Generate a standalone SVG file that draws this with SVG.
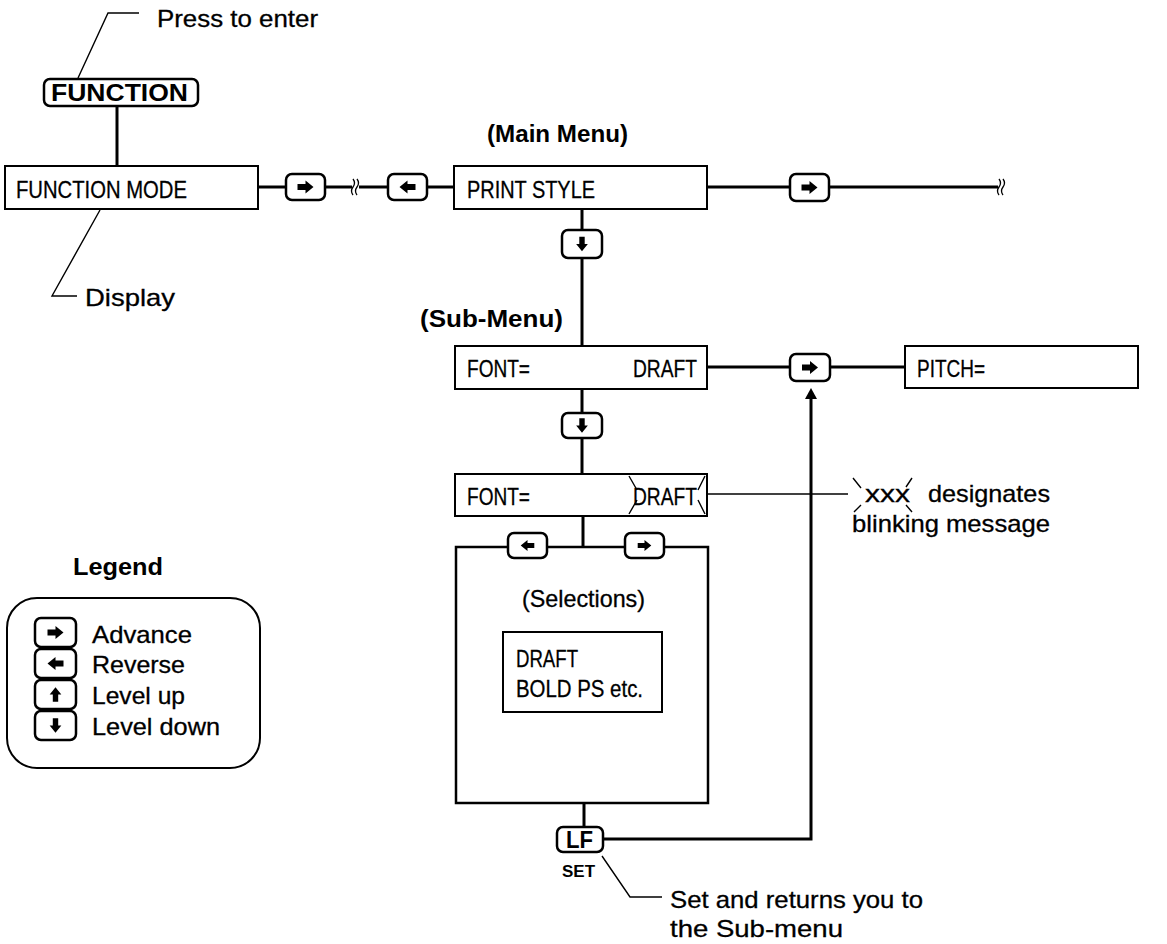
<svg xmlns="http://www.w3.org/2000/svg" width="1167" height="944" viewBox="0 0 1167 944">
<style>
.box{fill:#fff;stroke:#000;stroke-width:2}
.key{fill:#fff;stroke:#000;stroke-width:2.5}
.conn{fill:none;stroke:#000;stroke-width:3}
.thin{fill:none;stroke:#000;stroke-width:1.4}
.lbl{font-family:"Liberation Sans",Arial,sans-serif;font-size:24px;fill:#000;stroke:#000;stroke-width:0.3}
.bold{font-family:"Liberation Sans",Arial,sans-serif;font-size:24px;font-weight:bold;fill:#000}
.lcd{font-family:"Liberation Sans",Arial,sans-serif;font-size:24px;fill:#000;stroke:#000;stroke-width:0.3}
.brk{fill:none;stroke:#000;stroke-width:1.3}
</style>
<defs>
<path id="ar" d="M-8,-3 H0 V-6.5 L8,0 L0,6.5 V3 H-8 Z" fill="#000"/>
</defs>
<rect width="1167" height="944" fill="#fff"/>

<g id="connectors">
<polyline class="thin" points="78,78 108,13 139,13"/>
<line class="conn" x1="117" y1="106" x2="117" y2="166"/>
<polyline class="thin" points="100,210 52,296 77,296"/>
<line class="conn" x1="258" y1="187" x2="286" y2="187"/>
<line class="conn" x1="325" y1="187" x2="352" y2="187"/>
<path class="brk" d="M353,179 q3,4 0,8 q-3,4 0,8 M357,179 q3,4 0,8 q-3,4 0,8"/>
<line class="conn" x1="359" y1="187" x2="388" y2="187"/>
<line class="conn" x1="427" y1="187" x2="454" y2="187"/>
<line class="conn" x1="707" y1="187" x2="790" y2="187"/>
<line class="conn" x1="829" y1="187" x2="998" y2="187"/>
<path class="brk" d="M999,179 q3,4 0,8 q-3,4 0,8 M1003,179 q3,4 0,8 q-3,4 0,8"/>
<line class="conn" x1="582" y1="209" x2="582" y2="230"/>
<line class="conn" x1="582" y1="258" x2="582" y2="346"/>
<line class="conn" x1="707" y1="367" x2="790" y2="367"/>
<line class="conn" x1="830" y1="367" x2="905" y2="367"/>
<line class="conn" x1="582" y1="389" x2="582" y2="413"/>
<line class="conn" x1="582" y1="438" x2="582" y2="474"/>
<line class="thin" x1="707" y1="494" x2="848" y2="494"/>
<line class="conn" x1="583" y1="516" x2="583" y2="547"/>
<line class="conn" x1="584" y1="803" x2="584" y2="827"/>
<polyline class="conn" points="603,839 811,839 811,396"/>
<polygon points="811,388 805,399 817,399" fill="#000"/>
<polyline class="thin" points="602,856 630,897 662,897"/>
</g>

<g id="label-press">
<text class="lbl" x="157" y="27" textLength="161" lengthAdjust="spacingAndGlyphs">Press to enter</text>
</g>

<g id="key-function">
<rect class="key" x="44" y="79" width="154" height="27" rx="6"/>
<text class="bold" x="51" y="101" textLength="137" lengthAdjust="spacingAndGlyphs">FUNCTION</text>
</g>

<g id="node-function-mode">
<rect class="box" x="5" y="166" width="253" height="43"/>
<text class="lcd" x="16" y="198" textLength="171" lengthAdjust="spacingAndGlyphs">FUNCTION MODE</text>
</g>

<g id="label-display">
<text class="lbl" x="85" y="306" textLength="90" lengthAdjust="spacingAndGlyphs">Display</text>
</g>

<g id="key-adv1">
<rect class="key" x="286" y="174" width="39" height="26" rx="6"/>
<use href="#ar" transform="translate(305.5,187)"/>
</g>
<g id="key-rev1">
<rect class="key" x="388" y="174" width="39" height="26" rx="6"/>
<use href="#ar" transform="translate(407.5,187) rotate(180)"/>
</g>

<g id="label-main-menu">
<text class="bold" x="487" y="142" textLength="141" lengthAdjust="spacingAndGlyphs">(Main Menu)</text>
</g>

<g id="node-print-style">
<rect class="box" x="454" y="166" width="253" height="43"/>
<text class="lcd" x="467" y="198" textLength="128" lengthAdjust="spacingAndGlyphs">PRINT STYLE</text>
</g>

<g id="key-adv2">
<rect class="key" x="790" y="174" width="39" height="27" rx="6"/>
<use href="#ar" transform="translate(809.5,187.5)"/>
</g>

<g id="key-down1">
<rect class="key" x="562" y="230" width="40" height="28" rx="6"/>
<use href="#ar" transform="translate(582,244) rotate(90) scale(0.9)"/>
</g>

<g id="label-sub-menu">
<text class="bold" x="420" y="327" textLength="143" lengthAdjust="spacingAndGlyphs">(Sub-Menu)</text>
</g>

<g id="node-font">
<rect class="box" x="455" y="346" width="252" height="43"/>
<text class="lcd" x="467" y="377" textLength="63" lengthAdjust="spacingAndGlyphs">FONT=</text>
<text class="lcd" x="633" y="377" textLength="64" lengthAdjust="spacingAndGlyphs">DRAFT</text>
</g>

<g id="key-adv3">
<rect class="key" x="790" y="354" width="40" height="27" rx="6"/>
<use href="#ar" transform="translate(810,367.5)"/>
</g>

<g id="node-pitch">
<rect class="box" x="905" y="346" width="233" height="42"/>
<text class="lcd" x="917" y="377" textLength="68" lengthAdjust="spacingAndGlyphs">PITCH=</text>
</g>

<g id="key-down2">
<rect class="key" x="562" y="413" width="40" height="25" rx="6"/>
<use href="#ar" transform="translate(582,425.5) rotate(90) scale(0.9)"/>
</g>

<g id="node-font-blink">
<rect class="box" x="455" y="474" width="252" height="42"/>
<text class="lcd" x="467" y="505" textLength="63" lengthAdjust="spacingAndGlyphs">FONT=</text>
<text class="lcd" x="633" y="505" textLength="64" lengthAdjust="spacingAndGlyphs">DRAFT</text>
<path class="thin" d="M629,476 L637,490 M637,500 L629,514 M705,476 L698,490 M698,500 L705,514"/>
</g>

<g id="label-blink">
<path class="thin" d="M853,478 L861,488 M861,505 L854,512 M912,478 L906,487 M906,505 L912,512"/>
<text class="lbl" x="865" y="502" textLength="45" lengthAdjust="spacingAndGlyphs">xxx</text>
<text class="lbl" x="928" y="502" textLength="122" lengthAdjust="spacingAndGlyphs">designates</text>
<text class="lbl" x="852" y="532" textLength="198" lengthAdjust="spacingAndGlyphs">blinking message</text>
</g>

<g id="node-selections">
<rect class="box" x="456" y="547" width="252" height="256" style="stroke-width:2.5"/>
<text class="lbl" x="522" y="607" textLength="123" lengthAdjust="spacingAndGlyphs">(Selections)</text>
<rect class="box" x="503" y="632" width="159" height="80"/>
<text class="lcd" x="516" y="667" textLength="62" lengthAdjust="spacingAndGlyphs">DRAFT</text>
<text class="lcd" x="516" y="697" textLength="127" lengthAdjust="spacingAndGlyphs">BOLD PS etc.</text>
</g>

<g id="key-rev2">
<rect class="key" x="508" y="533" width="39" height="25" rx="6"/>
<use href="#ar" transform="translate(527.5,545.5) rotate(180) scale(0.85)"/>
</g>
<g id="key-adv4">
<rect class="key" x="625" y="533" width="39" height="25" rx="6"/>
<use href="#ar" transform="translate(644.5,545.5) scale(0.85)"/>
</g>

<g id="key-lf">
<rect class="key" x="557" y="827" width="46" height="25" rx="6"/>
<text class="bold" x="566" y="848" textLength="27" lengthAdjust="spacingAndGlyphs">LF</text>
<text class="bold" x="562" y="877" style="font-size:16px" textLength="33" lengthAdjust="spacingAndGlyphs">SET</text>
</g>

<g id="label-set">
<text class="lbl" x="670" y="908" textLength="253" lengthAdjust="spacingAndGlyphs">Set and returns you to</text>
<text class="lbl" x="670" y="937" textLength="173" lengthAdjust="spacingAndGlyphs">the Sub-menu</text>
</g>

<g id="legend">
<text class="bold" x="73" y="575" textLength="90" lengthAdjust="spacingAndGlyphs">Legend</text>
<rect class="box" x="7" y="598" width="253" height="170" rx="30"/>
<rect class="key" x="35" y="618" width="41" height="29" rx="6"/>
<use href="#ar" transform="translate(55.5,632.5)"/>
<rect class="key" x="35" y="649" width="41" height="29" rx="6"/>
<use href="#ar" transform="translate(55.5,663.5) rotate(180)"/>
<rect class="key" x="35" y="680" width="41" height="29" rx="6"/>
<use href="#ar" transform="translate(55.5,694.5) rotate(-90) scale(0.9)"/>
<rect class="key" x="35" y="711" width="41" height="29" rx="6"/>
<use href="#ar" transform="translate(55.5,725.5) rotate(90) scale(0.9)"/>
<text class="lbl" x="92" y="643" textLength="100" lengthAdjust="spacingAndGlyphs">Advance</text>
<text class="lbl" x="92" y="673" textLength="93" lengthAdjust="spacingAndGlyphs">Reverse</text>
<text class="lbl" x="92" y="704" textLength="93" lengthAdjust="spacingAndGlyphs">Level up</text>
<text class="lbl" x="92" y="735" textLength="128" lengthAdjust="spacingAndGlyphs">Level down</text>
</g>
</svg>
